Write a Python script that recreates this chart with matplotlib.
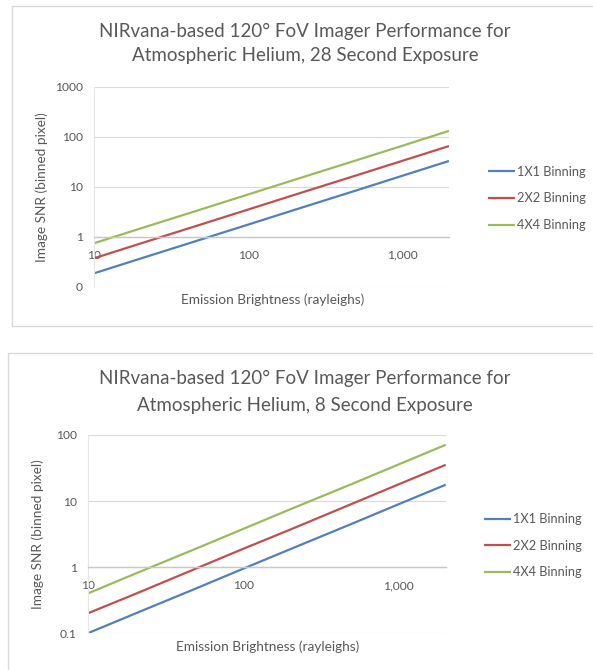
import matplotlib
matplotlib.use('Agg')
import matplotlib.pyplot as plt
import matplotlib.ticker as ticker
from matplotlib.patches import Rectangle

plt.rcParams['font.family'] = ['Lato', 'DejaVu Sans']

# Emission brightness (rayleighs) and SNR
brightness = [10, 20, 50, 100, 200, 500, 1000, 2000]
series_names = ['1X1 Binning', '2X2 Binning', '4X4 Binning']

snr_28s_1x1 = [0.185, 0.365, 0.89, 1.75, 3.45, 8.4, 16.6, 32.7]
snr_28s_2x2 = [0.37, 0.73, 1.78, 3.5, 6.9, 16.8, 33, 65]
snr_28s_4x4 = [0.74, 1.46, 3.56, 7.0, 13.8, 33.6, 66, 131]

snr_8s_1x1 = [0.1, 0.197, 0.48, 0.95, 1.87, 4.55, 9.0, 17.7]
snr_8s_2x2 = [0.2, 0.39, 0.96, 1.9, 3.7, 9.1, 18, 35.4]
snr_8s_4x4 = [0.4, 0.79, 1.92, 3.8, 7.5, 18.2, 36, 71]

titles = ['NIRvana-based 120\u00b0 FoV Imager Performance for\nAtmospheric Helium, 28 Second Exposure',
          'NIRvana-based 120\u00b0 FoV Imager Performance for\nAtmospheric Helium, 8 Second Exposure']

colors = ['#4F81BD', '#C0504D', '#9BBB59']
text_grey = '#595959'
W, H = 593, 670

fig = plt.figure(figsize=(W / 100, H / 100), dpi=100)

def px(x, y, w, h):
    # pixel box (top-left origin) -> figure fraction
    return [x / W, 1 - (y + h) / H, w / W, h / H]

# chart borders
for bx in [(12, 6, 600, 320), (8, 353, 600, 330)]:
    fig.patches.append(Rectangle((bx[0] / W, 1 - (bx[1] + bx[3]) / H), bx[2] / W, bx[3] / H,
                                 transform=fig.transFigure, fill=False, ec='#d9d9d9', lw=1))

panels = [
    dict(box=(94, 86.7, 355, 200), data=[snr_28s_1x1, snr_28s_2x2, snr_28s_4x4],
         ylim=(0.1, 1000), yt=[0.1, 1, 10, 100, 1000], ytl=['0', '1', '10', '100', '1000'],
         title_y=(31.7, 55), legend_y=172.7, legend_x=488, xlabel_y=299.5, ylabel_x=42),
    dict(box=(87.7, 435, 358, 198.3), data=[snr_8s_1x1, snr_8s_2x2, snr_8s_4x4],
         ylim=(0.1, 100), yt=[0.1, 1, 10, 100], ytl=['0.1', '1', '10', '100'],
         title_y=(378.5, 405), legend_y=520, legend_x=484, xlabel_y=646.7, ylabel_x=38),
]

for p, title in zip(panels, titles):
    ax = fig.add_axes(px(*p['box']))
    for vals, name, c in zip(p['data'], series_names, colors):
        ax.plot(brightness, vals, color=c, lw=1.6, label=name, solid_capstyle='butt')
    ax.set_xscale('log')
    ax.set_yscale('log')
    ax.set_xlim(10, 2000)
    ax.set_ylim(*p['ylim'])

    ax.yaxis.set_major_locator(ticker.FixedLocator(p['yt']))
    ax.yaxis.set_major_formatter(ticker.FixedFormatter(p['ytl']))
    ax.yaxis.set_minor_locator(ticker.NullLocator())
    ax.xaxis.set_major_locator(ticker.FixedLocator([10, 100, 1000]))
    ax.xaxis.set_major_formatter(ticker.FixedFormatter(['10', '100', '1,000']))
    ax.xaxis.set_minor_locator(ticker.NullLocator())
    ax.tick_params(length=0, labelsize=8.7, colors=text_grey)
    ax.tick_params(axis='y', pad=8)
    ax.tick_params(axis='x', pad=9.5)

    ax.grid(axis='y', color='#d9d9d9', lw=0.8)
    ax.set_axisbelow(True)
    ax.spines['bottom'].set_position(('data', 1))
    ax.spines['bottom'].set_color('#c8c8c8')
    ax.spines['bottom'].set_linewidth(1)
    ax.spines['left'].set_color('#e6e6e6')
    ax.spines['left'].set_linewidth(0.8)
    ax.spines['top'].set_visible(False)
    ax.spines['right'].set_visible(False)

    # title, axis labels (placed in figure pixels to follow the reference layout)
    for line, ty in zip(title.split('\n'), p['title_y']):
        fig.text(305 / W, 1 - ty / H, line, ha='center', va='center', fontsize=13.5, color=text_grey)
    fig.text((p['box'][0] + p['box'][2] / 2 + 1) / W, 1 - p['xlabel_y'] / H, 'Emission Brightness (rayleighs)',
             ha='center', va='center', fontsize=9.8, color=text_grey)
    fig.text(p['ylabel_x'] / W, 1 - (p['box'][1] + p['box'][3] / 2) / H, 'Image SNR (binned pixel)',
             ha='center', va='center', rotation=90, fontsize=9.8, color=text_grey)

    ax.legend(loc='upper left', bbox_to_anchor=(p['legend_x'] / W, 1 - (p['legend_y'] - 7) / H),
              bbox_transform=fig.transFigure, frameon=False, fontsize=9.2, labelcolor=text_grey,
              handlelength=2.1, handletextpad=0.15, labelspacing=1.15, borderpad=0, borderaxespad=0)

fig.savefig('out.png', dpi=100)
